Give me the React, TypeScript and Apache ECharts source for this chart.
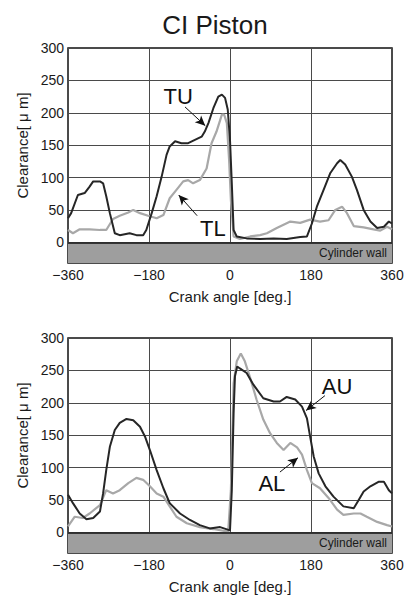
import React, { useEffect, useRef } from "react";
import * as echarts from "echarts";

const titleText = "CI Piston";
const yTickValues = [0, 50, 100, 150, 200, 250, 300];
const xAxisName = "Crank angle [deg.]";
const yAxisName = "Clearance[ μ m]";
const bandLabel = "Cylinder wall";

// Top chart: TU (dark) and TL (gray)
const tuAngles = [-360, -353, -338, -323, -312, -304, -289, -282, -275, -267, -256, -245, -223, -208, -193, -186, -174, -163, -152, -141, -134, -122, -108, -93, -78, -63, -56, -48, -37, -26, -18, -11, -5, 0, 4, 8, 15, 37, 67, 97, 126, 156, 171, 182, 193, 208, 223, 238, 245, 256, 271, 282, 297, 312, 327, 342, 353, 360];
const tuValues = [37, 45, 73, 76, 86, 94, 94, 91, 71, 45, 14, 11, 14, 11, 11, 19, 45, 71, 101, 135, 148, 156, 153, 153, 158, 163, 171, 184, 207, 225, 228, 223, 205, 158, 91, 19, 9, 6, 5, 6, 5, 8, 9, 29, 55, 81, 107, 122, 127, 120, 101, 81, 50, 32, 22, 24, 32, 29];

const tlAngles = [-360, -349, -334, -312, -289, -275, -260, -245, -226, -215, -200, -182, -163, -148, -134, -119, -104, -93, -82, -67, -52, -41, -30, -18, -13, -7, -2, 2, 8, 22, 45, 67, 82, 104, 134, 156, 178, 200, 219, 234, 249, 260, 275, 297, 319, 334, 349, 360];
const tlValues = [19, 14, 20, 20, 19, 19, 36, 41, 46, 50, 45, 41, 37, 42, 68, 81, 94, 96, 91, 96, 114, 153, 171, 197, 197, 184, 127, 65, 9, 5, 9, 11, 14, 22, 32, 30, 35, 32, 34, 50, 55, 45, 25, 23, 20, 18, 24, 20];

// Bottom chart: AU (dark) and AL (gray)
const auAngles = [-360, -349, -334, -319, -304, -289, -282, -275, -267, -256, -245, -230, -215, -200, -189, -178, -163, -148, -134, -111, -89, -67, -45, -22, 0, 4, 8, 11, 16, 22, 37, 52, 74, 97, 111, 126, 145, 160, 171, 178, 186, 197, 212, 230, 252, 275, 286, 297, 312, 330, 342, 353, 360];
const auValues = [58, 45, 29, 20, 22, 32, 60, 96, 132, 158, 169, 175, 173, 163, 148, 127, 96, 68, 45, 29, 19, 11, 6, 8, 3, 65, 184, 241, 256, 253, 246, 228, 207, 202, 202, 209, 205, 194, 176, 148, 117, 91, 71, 55, 40, 37, 50, 63, 71, 78, 78, 65, 60];

const alAngles = [-360, -345, -327, -312, -289, -275, -260, -245, -226, -208, -193, -178, -163, -148, -134, -119, -96, -67, -37, -4, 2, 8, 15, 24, 33, 45, 59, 74, 89, 104, 119, 134, 149, 160, 171, 182, 200, 219, 238, 252, 275, 290, 304, 327, 349, 360];
const alValues = [9, 24, 22, 29, 42, 65, 60, 65, 76, 84, 81, 71, 60, 55, 40, 24, 14, 8, 5, 1, 65, 230, 264, 276, 264, 238, 205, 174, 153, 138, 127, 138, 131, 120, 96, 76, 68, 53, 35, 27, 29, 29, 24, 16, 11, 9];

// Annotations: [label, labelX, labelY, arrowFromX, arrowFromY, arrowToX, arrowToY]
const topNotes: [string, number, number, number, number, number, number][] = [
  ["TU", -115, 225, -100, 209, -55, 180],
  ["TL", -38, 21, -73, 41, -114, 73],
];
const bottomNotes: [string, number, number, number, number, number, number][] = [
  ["AU", 238, 225, 211, 211, 169, 188],
  ["AL", 93, 76, 111, 93, 151, 115],
];

const Y_MIN = -32;
const FONT = "'Liberation Sans', Arial, sans-serif";
const DARK = "#262626";
const GRAY = "#a8a8a8";

function pairs(a: number[], v: number[]) {
  return a.map((x, i) => [x, v[i]]);
}

function minusFmt(v: number) {
  return String(v).replace("-", "\u2212");
}

function makeAxes(gridIndex: number) {
  const xAxis = {
    type: "value",
    gridIndex,
    min: -360,
    max: 360,
    interval: 180,
    name: xAxisName,
    nameLocation: "middle",
    nameGap: 26,
    nameTextStyle: { fontFamily: FONT, fontSize: 15, color: "#1a1a1a" },
    axisLine: { show: false, onZero: false },
    axisTick: { show: false },
    axisLabel: { fontFamily: FONT, fontSize: 14, color: "#1a1a1a", margin: 5, formatter: minusFmt },
    splitLine: { show: true, lineStyle: { color: "#4a4a4a", width: 1 } },
  };
  const yAxis = {
    type: "value",
    gridIndex,
    min: Y_MIN,
    max: 300,
    name: yAxisName,
    nameLocation: "middle",
    nameGap: 36,
    nameTextStyle: { fontFamily: FONT, fontSize: 15, color: "#1a1a1a", padding: [0, 0, 0, 20] },
    axisLine: { show: false },
    axisTick: { show: false, customValues: yTickValues },
    axisLabel: { fontFamily: FONT, fontSize: 14, color: "#1a1a1a", margin: 4, customValues: yTickValues },
    splitLine: { show: true, lineStyle: { color: "#4a4a4a", width: 1 } },
  };
  return { xAxis, yAxis };
}

function makeSeries(idx: number, darkData: number[][], grayData: number[][], notes: typeof topNotes, names: [string, string]) {
  const arrowLines = notes.map((n) => [
    { coord: [n[3], n[4]], symbol: "none" },
    { coord: [n[5], n[6]], symbol: "arrow", symbolSize: [7, 10] },
  ]);
  const labels = notes.map((n) => ({ coord: [n[1], n[2]], value: n[0] }));
  return [
    {
      name: names[1],
      type: "line",
      xAxisIndex: idx,
      yAxisIndex: idx,
      data: grayData,
      showSymbol: false,
      symbol: "none",
      lineStyle: { color: GRAY, width: 2.2 },
      z: 3,
    },
    {
      name: names[0],
      type: "line",
      xAxisIndex: idx,
      yAxisIndex: idx,
      data: darkData,
      showSymbol: false,
      symbol: "none",
      lineStyle: { color: DARK, width: 2 },
      z: 4,
      markArea: {
        silent: true,
        itemStyle: { color: "#9e9e9e" },
        label: {
          show: true,
          position: "insideRight",
          distance: 5,
          fontFamily: FONT,
          fontSize: 12,
          color: "#1a1a1a",
        },
        data: [[{ yAxis: Y_MIN, name: bandLabel }, { yAxis: 0 }]],
      },
      markLine: {
        silent: true,
        animation: false,
        label: { show: false },
        lineStyle: { color: "#111", width: 1, type: "solid" },
        data: [
          [
            { coord: [-360, 0], symbol: "none", lineStyle: { width: 1.6 } },
            { coord: [360, 0], symbol: "none" },
          ],
          ...arrowLines,
        ],
      },
      markPoint: {
        silent: true,
        symbol: "rect",
        symbolSize: 1,
        itemStyle: { color: "rgba(0,0,0,0)" },
        label: {
          show: true,
          position: "inside",
          fontFamily: FONT,
          fontSize: 22,
          color: "#111",
          formatter: (p: any) => p.value,
        },
        data: labels,
      },
    },
  ];
}

export default function App() {
  const ref = useRef<HTMLDivElement>(null);
  useEffect(() => {
    if (!ref.current) return;
    const chart = echarts.init(ref.current, undefined, { renderer: "svg" });
    const a0 = makeAxes(0);
    const a1 = makeAxes(1);
    chart.setOption({
      animation: false,
      backgroundColor: "#ffffff",
      title: {
        text: titleText,
        left: 210,
        top: 7,
        textAlign: "center",
        textStyle: { fontFamily: FONT, fontSize: 26, fontWeight: "normal", color: "#1a1a1a" },
      },
      grid: [
        { left: 68, width: 324, top: 48, height: 215, show: true, borderColor: "#111", borderWidth: 1.5, backgroundColor: "transparent" },
        { left: 68, width: 324, top: 338, height: 215, show: true, borderColor: "#111", borderWidth: 1.5, backgroundColor: "transparent" },
      ],
      xAxis: [a0.xAxis, a1.xAxis],
      yAxis: [a0.yAxis, a1.yAxis],
      series: [
        ...makeSeries(0, pairs(tuAngles, tuValues), pairs(tlAngles, tlValues), topNotes, ["TU", "TL"]),
        ...makeSeries(1, pairs(auAngles, auValues), pairs(alAngles, alValues), bottomNotes, ["AU", "AL"]),
      ],
    });
    return () => chart.dispose();
  }, []);
  return (
    <div
      ref={ref}
      style={{ position: "absolute", left: 0, top: 0, width: 413, height: 602 }}
    />
  );
}
